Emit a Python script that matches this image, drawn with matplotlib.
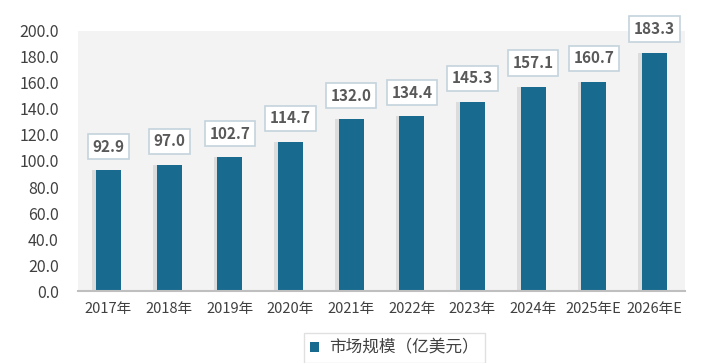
import matplotlib
matplotlib.use("Agg")
from matplotlib import pyplot as plt
from matplotlib.patches import Patch

plt.rcParams['font.family'] = ['Noto Sans CJK SC', 'DejaVu Sans']

years = ['2017年', '2018年', '2019年', '2020年', '2021年',
         '2022年', '2023年', '2024年', '2025年E', '2026年E']
market = [92.9, 97.0, 102.7, 114.7, 132.0, 134.4, 145.3, 157.1, 160.7, 183.3]
yticks = [0, 20, 40, 60, 80, 100, 120, 140, 160, 180, 200]
series_name = '市场规模（亿美元）'

bar_color = '#186a8e'
text_color = '#404040'

fig = plt.figure(figsize=(7.17, 3.63), dpi=100)
ax = fig.add_axes([0.109, 0.198, 0.846, 0.717])
ax.set_facecolor('#f3f3f3')

x = range(len(years))
# soft shadow behind each bar
ax.bar([i - 0.05 for i in x], market, width=0.43, color='#dcdcdc', zorder=1)
bars = ax.bar(x, market, width=0.41, color=bar_color, zorder=2)

for rect, v in zip(bars, market):
    ax.annotate(f'{v:.1f}', (rect.get_x() + rect.get_width() / 2, v),
                xytext=(0, 17), textcoords='offset points',
                ha='center', va='center', fontsize=11, fontweight='bold',
                color='#595959',
                bbox=dict(boxstyle='square,pad=0.3', fc='white',
                          ec='#c5d3dd', lw=1.2))

ax.set_xlim(-0.5, len(years) - 0.5)
ax.set_ylim(0, 200)
ax.set_yticks(yticks)
ax.set_yticklabels([f'{t:.1f}' for t in yticks])
ax.set_xticks(list(x))
ax.set_xticklabels(years)
ax.tick_params(axis='y', length=0, pad=14, labelsize=11.5, labelcolor=text_color)
ax.tick_params(axis='x', length=0, pad=8, labelsize=10.5, labelcolor=text_color)

for side in ['top', 'right', 'left']:
    ax.spines[side].set_visible(False)
ax.spines['bottom'].set_color('#bfbfbf')
ax.spines['bottom'].set_linewidth(1.5)

handle = Patch(facecolor=bar_color, edgecolor='none')
fig.legend([handle], [series_name], loc='lower center',
           bbox_to_anchor=(0.55, -0.015), frameon=True, fancybox=False,
           edgecolor='#d9d9d9', fontsize=12, handlelength=0.5,
           handleheight=0.5, handletextpad=0.6, labelcolor=text_color,
           borderpad=0.4, borderaxespad=0.3)

fig.savefig('out.png', dpi=100)
